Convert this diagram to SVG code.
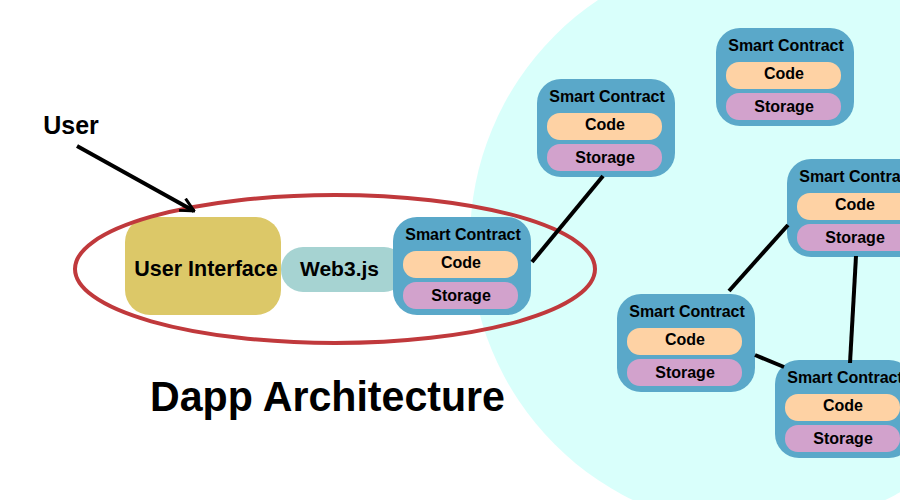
<svg xmlns="http://www.w3.org/2000/svg" width="900" height="500" viewBox="0 0 900 500">
<defs>
<style>
.sc{fill:#5aa8c9}
.code{fill:#fed2a4}
.stor{fill:#d2a2cc}
.t{font-family:"Liberation Sans",Arial,sans-serif;font-weight:bold;fill:#000;text-anchor:middle}
.tt{font-size:16px}
.conn{stroke:#000;stroke-width:4;fill:none}
</style>
<marker id="arr" viewBox="0 0 12 12" refX="11" refY="6" markerWidth="4" markerHeight="4" orient="auto" markerUnits="strokeWidth">
<path d="M1,1 L11,6 L1,11" fill="none" stroke="#000" stroke-width="2.2"/>
</marker>
<g id="scTpl">
<rect x="0" y="0" width="138" height="98" rx="24" class="sc"/>
<rect x="10" y="34" width="115" height="27" rx="13" class="code"/>
<rect x="10" y="65" width="115" height="27" rx="13" class="stor"/>
<text x="70" y="23" class="t tt">Smart Contract</text>
<text x="68" y="51" class="t tt">Code</text>
<text x="68" y="84" class="t tt">Storage</text>
</g>
</defs>
<rect width="900" height="500" fill="#fff"/>
<circle id="network" cx="759" cy="240" r="289" fill="#d9fffb"/>
<g id="web3"><rect x="281" y="247" width="125" height="45" rx="22" fill="#a6d3d2"/><text x="339.5" y="276" class="t" style="font-size:21px">Web3.js</text></g>
<g id="ui"><rect x="125" y="217" width="156" height="98" rx="25" fill="#dcc868"/><text x="206" y="276" class="t" style="font-size:21.5px">User Interface</text></g>
<g id="sc0"><use href="#scTpl" x="393" y="217"/></g>
<g id="scA"><use href="#scTpl" x="537" y="79"/></g>
<g id="scB"><use href="#scTpl" x="716" y="28"/></g>
<g id="scC"><use href="#scTpl" x="787" y="159"/></g>
<g id="scD"><use href="#scTpl" x="617" y="294"/></g>
<g id="scE"><use href="#scTpl" x="775" y="360"/></g>
<ellipse id="dapp" cx="335" cy="269" rx="260" ry="74" fill="none" stroke="#c0393c" stroke-width="4"/>
<g id="connectors">
<line x1="532" y1="262" x2="603" y2="176" class="conn"/>
<line x1="788" y1="225" x2="729" y2="291" class="conn"/>
<line x1="856" y1="256" x2="850" y2="363" class="conn"/>
<line x1="755" y1="355" x2="784" y2="367" class="conn"/>
<line x1="77" y1="146" x2="194" y2="211" class="conn" marker-end="url(#arr)"/>
</g>
<g id="user"><text x="71" y="134" class="t" style="font-size:25px">User</text></g>
<g id="title"><text x="150" y="411" class="t" style="font-size:42px;text-anchor:start" textLength="355" lengthAdjust="spacingAndGlyphs">Dapp Architecture</text></g>
</svg>
